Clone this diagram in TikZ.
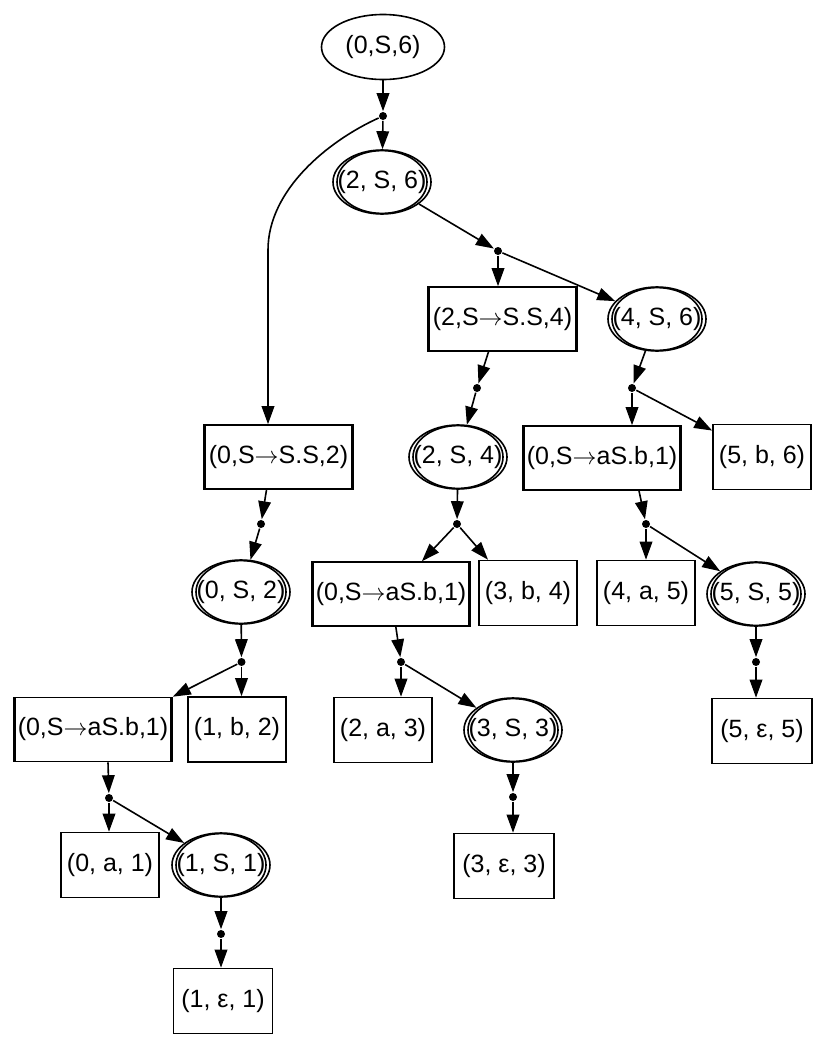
\documentclass[tikz,border=0pt]{standalone}
\usepackage{fontspec}
\setmainfont{Liberation Sans}
\usetikzlibrary{shapes.geometric,arrows.meta}

\tikzset{
  every node/.style={font=\fontsize{12.5}{15}\selectfont, inner sep=0pt, line width=0.8pt},
  link/.style={line width=0.8pt, -{Triangle[length=9pt,width=6.3pt]}},
  sym/.style={ellipse, draw, inner xsep=-8pt, minimum width=49pt, minimum height=32pt},
  inter/.style={rectangle, draw, minimum height=32pt,
    path picture={\draw[line width=0.8pt]
      ([xshift=0.7pt]path picture bounding box.north west) -- ([xshift=0.7pt]path picture bounding box.south west)
      ([xshift=-0.7pt]path picture bounding box.north east) -- ([xshift=-0.7pt]path picture bounding box.south east);}},
  term/.style={rectangle, draw, minimum width=49pt, minimum height=32.5pt},
  pack/.style={circle, fill, minimum size=4pt}
}
\newcommand{\ra}{\ensuremath{\rightarrow}}

\begin{document}
\begin{tikzpicture}[x=0.5pt,y=-0.5pt]
    \useasboundingbox (0,0) rectangle (830,1049);

    % symbol nodes
    \node[sym, minimum width=61.5pt, minimum height=32.5pt] (s06) at (383,47) {(0,S,6)};
    \node[sym] (s26) at (382,182) {(2, S, 6)};
    \node[sym] (s46) at (657,319) {(4, S, 6)};
    \node[sym] (s24) at (458,457) {(2, S, 4)};
    \node[sym] (s02) at (241,592) {(0, S, 2)};
    \node[sym] (s11) at (221,865) {(1, S, 1)};
    \node[sym] (s33) at (513,730) {(3, S, 3)};
    \node[sym] (s55) at (756,594) {(5, S, 5)};
    % second periphery
    \foreach \s in {s26,s46,s24,s02,s11,s33,s55}
      \draw[line width=0.8pt] (\s.center) ellipse [x radius=22.5pt, y radius=15.7pt];

    % intermediate nodes
    \node[inter, minimum width=74.5pt] (i2SS4) at (502.5,319) {(2,S\ra S.S,4)};
    \node[inter, minimum width=74.5pt] (iL) at (278.5,457) {(0,S\ra S.S,2)};
    \node[inter, minimum width=79pt] (iA) at (93,729.5) {(0,S\ra aS.b,1)};
    \node[inter, minimum width=79pt] (iM) at (391,594) {(0,S\ra aS.b,1)};
    \node[inter, minimum width=79pt] (iR) at (602,458) {(0,S\ra aS.b,1)};

    % terminal nodes
    \node[term] (t1b2) at (237,729.5) {(1, b, 2)};
    \node[term] (t0a1) at (110,865) {(0, a, 1)};
    \node[term, minimum width=49.5pt] (t1e1) at (223,1001) {(1, ε, 1)};
    \node[term] (t3b4) at (528,593) {(3, b, 4)};
    \node[term] (t2a3) at (383,730) {(2, a, 3)};
    \node[term, minimum width=50pt] (t3e3) at (504,866) {(3, ε, 3)};
    \node[term] (t5b6) at (762,457) {(5, b, 6)};
    \node[term] (t4a5) at (646,593) {(4, a, 5)};
    \node[term, minimum width=50pt] (t5e5) at (762,731) {(5, ε, 5)};

    % packed nodes
    \node[pack] (p1) at (383,116) {};
    \node[pack] (p2) at (498,251) {};
    \node[pack] (p3) at (477,388) {};
    \node[pack] (p10) at (632,388) {};
    \node[pack] (pL) at (261,524) {};
    \node[pack] (p7) at (457,524) {};
    \node[pack] (p11) at (646,524) {};
    \node[pack] (p4) at (241.5,662) {};
    \node[pack] (p8) at (401,662) {};
    \node[pack] (p12) at (756,662) {};
    \node[pack] (pA) at (109,798) {};
    \node[pack] (p9) at (513,797) {};
    \node[pack] (p6) at (221,934) {};
    \coordinate (bend) at (268,250);

    % edges
    \draw[link] (s06) -- (p1);
    \draw[link] (p1) -- (s26);
    \draw[link] (p1) .. controls +(-55,25) and +(0,-60) .. (bend) -- (bend |- iL.north);
    \draw[link] (s26) -- (p2);
    \draw[link] (p2) -- (p2 |- i2SS4.north);
    \draw[link] (p2) -- (s46);
    \draw[link] ([xshift=-7pt]i2SS4.south) -- (p3);
    \draw[link] (p3) -- (s24);
    \draw[link] (s46) -- (p10);
    \draw[link] (p10) -- (p10 |- iR.north);
    \draw[link] (p10) -- (t5b6);
    \draw[link] ([xshift=-6pt]iL.south) -- (pL);
    \draw[link] (pL) -- (s02);
    \draw[link] (s02) -- (p4);
    \draw[link] (p4) -- (iA.north east);
    \draw[link] (p4) -- (p4 |- t1b2.north);
    \draw[link] ([xshift=7.5pt]iA.south) -- (pA);
    \draw[link] (pA) -- (pA |- t0a1.north);
    \draw[link] (pA) -- (s11);
    \draw[link] (s11) -- (p6);
    \draw[link] (p6) -- (p6 |- t1e1.north);
    \draw[link] (s24) -- (p7);
    \draw[link] (p7) -- (iM);
    \draw[link] (p7) -- ([xshift=-20pt]t3b4.north);
    \draw[link] (iM) -- (p8);
    \draw[link] (p8) -- (p8 |- t2a3.north);
    \draw[link] (p8) -- (s33);
    \draw[link] (s33) -- (p9);
    \draw[link] (p9) -- (p9 |- t3e3.north);
    \draw[link] ([xshift=18.5pt]iR.south) -- (p11);
    \draw[link] (p11) -- (t4a5);
    \draw[link] (p11) -- (s55);
    \draw[link] (s55) -- (p12);
    \draw[link] (p12) -- (p12 |- t5e5.north);
\end{tikzpicture}
\end{document}
